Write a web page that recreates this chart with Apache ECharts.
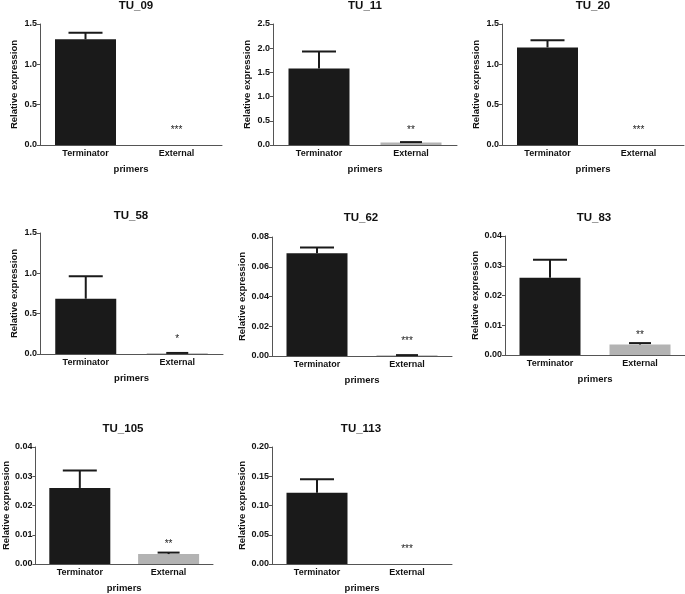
<!DOCTYPE html>
<html>
<head>
<meta charset="utf-8">
<script src="https://cdn.jsdelivr.net/npm/echarts@6/dist/echarts.min.js"></script>
<style>html,body{margin:0;padding:0;background:#fff;}#c{width:685px;height:594px;}</style>
</head>
<body>
<div id="c"></div>
<script>
// ---- data ----
const panels = ["TU_09", "TU_11", "TU_20", "TU_58", "TU_62", "TU_83", "TU_105", "TU_113"];
const categories = ["Terminator", "External"];
const terminatorMean = [1.31, 1.58, 1.21, 0.685, 0.069, 0.026, 0.026, 0.122];
const terminatorErr = [0.08, 0.35, 0.09, 0.28, 0.004, 0.006, 0.006, 0.023];
const externalMean = [0, 0.05, 0, 0.01, 0.0005, 0.0035, 0.0034, 0];
const externalErr = [0, 0.01, 0, 0.003, 0.0001, 0.0005, 0.0005, 0];
const significance = ["***", "**", "***", "*", "***", "**", "**", "***"];
const yMax = [1.5, 2.5, 1.5, 1.5, 0.08, 0.04, 0.04, 0.20];
const yInterval = [0.5, 0.5, 0.5, 0.5, 0.02, 0.01, 0.01, 0.05];
const yDecimals = [1, 1, 1, 1, 2, 2, 2, 2];

// ---- layout (pixel boxes of each plot area) ----
const boxes = [
  {l: 40, r: 222, t: 24, b: 145},
  {l: 273, r: 457, t: 24, b: 145},
  {l: 502, r: 684, t: 24, b: 145},
  {l: 40, r: 223, t: 233, b: 354},
  {l: 272, r: 452, t: 237, b: 356},
  {l: 505, r: 686, t: 236, b: 355},
  {l: 33, r: 213, t: 447, b: 564},
  {l: 272, r: 452, t: 447, b: 565}
];
const titleX = [136, 365, 593, 131, 361, 594, 123, 361];
const titleY = [0, 0, 0, 210, 212, 212, 423, 423];

const FONT = "'Liberation Sans', Arial, sans-serif";
const W = 685, H = 594;

const option = {
  animation: false,
  backgroundColor: '#fff',
  graphic: [], grid: [], xAxis: [], yAxis: [], series: []
};

panels.forEach((name, i) => {
  const b = boxes[i];
  option.graphic.push({
    type: 'text', x: titleX[i], y: titleY[i],
    style: {text: name, font: "bold 11.5px " + FONT, fill: '#111', align: 'center', verticalAlign: 'top'}
  });
  option.grid.push({left: b.l, top: b.t, width: b.r - b.l, height: b.b - b.t, containLabel: false});
  option.xAxis.push({
    type: 'category', gridIndex: i, data: categories,
    name: 'primers', nameLocation: 'middle', nameGap: 19,
    nameTextStyle: {fontFamily: FONT, fontSize: 9.5, fontWeight: 'bold', color: '#111'},
    axisLine: {lineStyle: {color: '#555', width: 1}},
    axisTick: {alignWithLabel: true, length: 3, lineStyle: {color: '#555'}},
    axisLabel: {fontFamily: FONT, fontSize: 9, fontWeight: 'bold', color: '#111', margin: 4}
  });
  option.yAxis.push({
    type: 'value', gridIndex: i, min: 0, max: yMax[i], interval: yInterval[i],
    name: 'Relative expression', nameLocation: 'middle', nameGap: 21,
    nameTextStyle: {fontFamily: FONT, fontSize: 9.5, fontWeight: 'bold', color: '#111'},
    axisLine: {show: true, lineStyle: {color: '#555', width: 1}},
    axisTick: {show: true, length: 3, lineStyle: {color: '#555'}},
    splitLine: {show: false},
    axisLabel: {fontFamily: FONT, fontSize: 9, fontWeight: 'bold', color: '#111', margin: 3,
      formatter: v => v.toFixed(yDecimals[i])}
  });
  option.series.push({
    type: 'bar', xAxisIndex: i, yAxisIndex: i, barWidth: 61,
    data: [
      {value: terminatorMean[i], itemStyle: {color: '#1a1a1a'}},
      {value: externalMean[i], itemStyle: {color: '#b3b3b3'}}
    ]
  });
  const errData = [
    [0, terminatorMean[i], terminatorErr[i], ''],
    [1, externalMean[i], externalErr[i], significance[i]]
  ];
  option.series.push({
    type: 'custom', xAxisIndex: i, yAxisIndex: i, z: 5,
    data: errData,
    renderItem: (params, api) => {
      const x = api.value(0), m = api.value(1), e = api.value(2);
      const stars = errData[params.dataIndex][3];
      const p0 = api.coord([x, m]);
      const p1 = api.coord([x, m + e]);
      const cap = x === 0 ? 34 : 22;
      const children = [];
      if (e > 0) {
        children.push({type: 'line', shape: {x1: p0[0], y1: p0[1], x2: p1[0], y2: p1[1]},
          style: {stroke: '#1a1a1a', lineWidth: 2}});
        children.push({type: 'line', shape: {x1: p1[0] - cap / 2, y1: p1[1], x2: p1[0] + cap / 2, y2: p1[1]},
          style: {stroke: '#1a1a1a', lineWidth: 2}});
      }
      if (stars) {
        const base = api.coord([x, 0]);
        const ty = Math.min(p1[1] - 3, base[1] - 10);
        children.push({type: 'text', x: p1[0], y: ty,
          style: {text: stars, fontFamily: FONT, fontSize: 10, fill: '#222', align: 'center', verticalAlign: 'bottom'}});
      }
      return {type: 'group', children: children};
    }
  });
});

const chart = echarts.init(document.getElementById('c'), null, {renderer: 'canvas', width: W, height: H});
chart.setOption(option);
</script>
</body>
</html>
